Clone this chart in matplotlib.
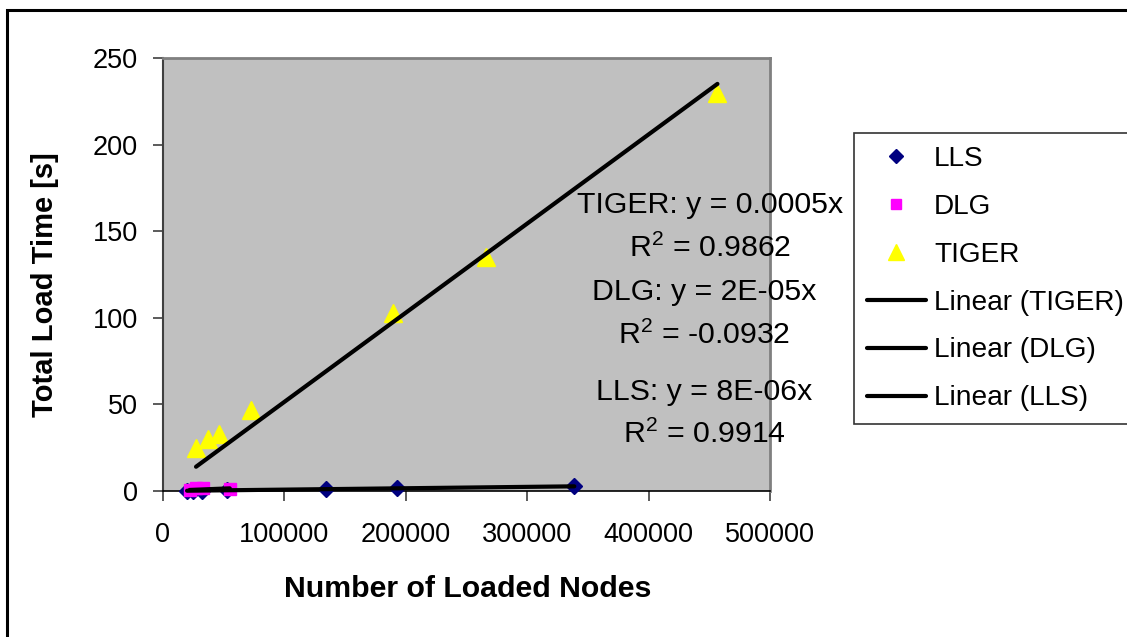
import numpy as np
import matplotlib
matplotlib.use('Agg')
import matplotlib.pyplot as plt
from matplotlib.patches import Rectangle

# data
lls_nodes = [19800, 24700, 32100, 52800, 134400, 192900, 338800]
lls_time = [0.15, 0.2, 0.25, 0.45, 1.1, 1.5, 2.7]

dlg_nodes = [22000, 27000, 33000, 55000]
dlg_time = [0.3, 1.6, 1.5, 0.9]

tiger_nodes = [27200, 37100, 46200, 72500, 189600, 266300, 456700]
tiger_time = [24.8, 30, 33, 47, 103, 135, 230]

fit_labels = [
    ('TIGER: y = 0.0005x', 'R$^{2}$ = 0.9862'),
    ('DLG: y = 2E-05x', 'R$^{2}$ = -0.0932'),
    ('LLS: y = 8E-06x', 'R$^{2}$ = 0.9914'),
]

plt.rcParams['font.family'] = ['Liberation Sans', 'DejaVu Sans']
plt.rcParams['mathtext.default'] = 'regular'

W, H = 1127, 637


def fit_origin(x, y):
    # linear trend forced through zero, like the excel trendline
    x = np.asarray(x, float)
    y = np.asarray(y, float)
    k = np.sum(x * y) / np.sum(x * x)
    xs = np.array([x.min(), x.max()])
    return xs, k * xs


def main():
    fig = plt.figure(figsize=(W / 100, H / 100), dpi=100)
    fig.patch.set_facecolor('white')
    ax = fig.add_axes([163 / W, 1 - 491 / H, (770 - 163) / W, (491 - 58) / H])
    ax.set_facecolor('#c0c0c0')

    # outer chart frame (right/bottom edges are cut off in the picture)
    fig.patches.append(Rectangle((7 / W, -0.2), 1.2, 1.2 - 9.5 / H,
                                 transform=fig.transFigure, fill=False,
                                 edgecolor='black', linewidth=2.2))

    ax.plot(lls_nodes, lls_time, linestyle='none', marker='D', markersize=8,
            color='#000080', label='LLS', clip_on=False, zorder=3)
    ax.plot(dlg_nodes, dlg_time, linestyle='none', marker='s', markersize=9,
            color='#ff00ff', label='DLG', clip_on=False, zorder=3)
    ax.plot(tiger_nodes, tiger_time, linestyle='none', marker='^', markersize=13,
            color='#ffff00', label='TIGER', clip_on=False, zorder=3)

    for name, xx, yy in [('TIGER', tiger_nodes, tiger_time),
                         ('DLG', dlg_nodes, dlg_time),
                         ('LLS', lls_nodes, lls_time)]:
        fx, fy = fit_origin(xx, yy)
        ax.plot(fx, fy, color='black', linewidth=3, solid_capstyle='round',
                label='Linear (%s)' % name, zorder=4, clip_on=False)

    ax.set_xlim(0, 500000)
    ax.set_ylim(0, 250)
    ax.set_xticks(np.arange(0, 500001, 100000))
    ax.set_yticks(np.arange(0, 251, 50))
    ax.tick_params(axis='both', labelsize=19.5, direction='out', length=7,
                   width=1.2, color='#404040')
    ax.tick_params(axis='x', pad=15)
    ax.tick_params(axis='y', pad=11)

    for s in ['top', 'right']:
        ax.spines[s].set_color('#808080')
        ax.spines[s].set_linewidth(2)
    ax.spines['left'].set_color('#404040')
    ax.spines['left'].set_linewidth(1.5)
    ax.spines['bottom'].set_color('black')
    ax.spines['bottom'].set_linewidth(1.2)

    fig.text(468 / W, 1 - 589 / H, 'Number of Loaded Nodes', ha='center',
             va='center', fontsize=21.8, fontweight='bold')
    fig.text(45 / W, 1 - 285 / H, 'Total Load Time [s]', ha='center',
             va='center', rotation=90, fontsize=21, fontweight='bold')

    # trendline equations
    rows = [(710, 205, 248), (704, 292, 335), (704, 392, 434)]
    for (eq, r2), (cx, y1, y2) in zip(fit_labels, rows):
        fig.text(cx / W, 1 - y1 / H, eq, ha='center', va='center', fontsize=21.8)
        fig.text(cx / W, 1 - y2 / H, r2, ha='center', va='center', fontsize=21.8)

    leg = ax.legend(loc='upper left', bbox_to_anchor=(854 / W, 1 - 133 / H),
                    bbox_transform=fig.transFigure, fontsize=20.2, frameon=True,
                    fancybox=False, borderpad=0.46, labelspacing=0.78,
                    handlelength=2.1, handletextpad=0.3, borderaxespad=0,
                    markerscale=0.85)
    leg.get_frame().set_edgecolor('black')
    leg.get_frame().set_linewidth(1.2)

    fig.savefig('out.png', dpi=100)


if __name__ == '__main__':
    main()
